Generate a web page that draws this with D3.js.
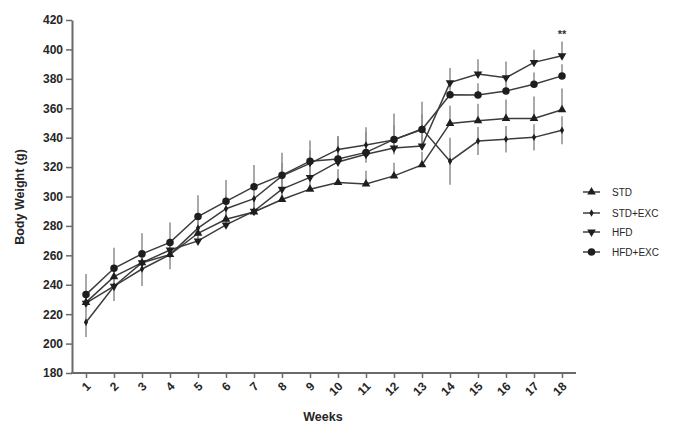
<!DOCTYPE html>
<html lang="en">
<head>
    <meta charset="UTF-8">
    <title>Body weight</title>
    <script src="https://d3js.org/d3.v7.min.js"></script>
    <style>
        body { margin: 0; background: #fff; }
        svg { font-family: Arial, "Liberation Sans", sans-serif; }
        .tick text { font-weight: bold; font-size: 12px; fill: #262626; }
    </style>
</head>
<body>
    <script>
        const weeks = d3.range(1, 19);
        const yTicks = [180, 200, 220, 240, 260, 280, 300, 320, 340, 360, 380, 400, 420];

        const std     = [228, 245.5, 255, 260.5, 275, 284.5, 289.5, 298, 305, 309.5, 308.5, 314, 321.5, 349.7, 351.5, 353, 353, 359];
        const stdExc  = [214.5, 239, 250.7, 260.5, 278.5, 291.7, 298.5, 314, 322.5, 332, 335, 338.5, 346, 324, 337.7, 339, 340.2, 345];
        const hfd     = [227.5, 239, 255, 263.6, 269.8, 280.7, 290, 305, 313, 323.5, 328.7, 333, 334.3, 377.4, 383.3, 380.8, 391.2, 395.7];
        const hfdExc  = [233.3, 251.2, 261, 268.8, 286.4, 296.7, 306.7, 314.5, 324, 325.5, 330, 338.8, 345.5, 369.2, 369, 371.7, 376.3, 382];

        const stdErr    = [8, 8, 8, 10, 8, 8, 8, 8, 8, 9, 9, 9, 9, 12, 11.5, 13, 15, 14.5];
        const stdExcErr = [10, 10, 11.5, 10, 10, 9, 9, 9, 9, 9, 12, 10, 10, 16, 9.5, 9, 9, 9.5];
        const hfdErr    = [8, 8, 8, 8, 8, 8, 8, 8, 8, 8, 8, 8, 8, 10, 10, 11, 8.5, 9.6];
        const hfdExcErr = [14, 14, 14, 13.5, 14.5, 14.5, 14.7, 15.3, 14, 15.5, 14, 17.6, 19, 8, 8, 8, 8, 8];

        // up: whisker above the mean, down: whisker below
        const groups = [
            { name: "STD", values: std, err: stdErr, up: true, down: false, symbol: d3.symbolTriangle, size: 32, rot: 0 },
            { name: "STD+EXC", values: stdExc, err: stdExcErr, up: true, down: true, symbol: d3.symbolDiamond, size: 16, rot: 0 },
            { name: "HFD", values: hfd, err: hfdErr, up: true, down: false, symbol: d3.symbolTriangle, size: 32, rot: 180 },
            { name: "HFD+EXC", values: hfdExc, err: hfdExcErr, up: true, down: false, symbol: d3.symbolCircle, size: 44, rot: 0 }
        ];

        const w = 678;
        const h = 436;

        const x = d3.scaleLinear().domain([1, 18]).range([86, 562]);
        const y = d3.scaleLinear().domain([180, 420]).range([373, 20]);

        const svg = d3.select("body")
                      .append("svg")
                      .attr("width", w)
                      .attr("height", h);

        // y axis
        const yAxis = d3.axisLeft(y).tickValues(yTicks).tickSize(6).tickSizeOuter(0).tickPadding(3);
        const gy = svg.append("g")
           .attr("transform", "translate(72,0)")
           .call(yAxis);
        gy.select(".domain").attr("stroke", "#6a6a6a").attr("stroke-width", 2);
        gy.selectAll(".tick line").attr("stroke", "#6a6a6a").attr("stroke-width", 1.5);

        // x axis
        const xAxis = d3.axisBottom(x).tickValues(weeks).tickSize(5).tickSizeOuter(0);
        const gx = svg.append("g")
           .attr("transform", "translate(0,373)")
           .call(xAxis);
        gx.select(".domain").remove();
        gx.append("line")
          .attr("x1", 71).attr("x2", 576)
          .attr("stroke", "#6a6a6a").attr("stroke-width", 2);
        gx.selectAll(".tick line").attr("stroke", "#6a6a6a").attr("stroke-width", 1.5);
        gx.selectAll(".tick text")
          .attr("text-anchor", "end")
          .attr("dy", "0.35em")
          .attr("transform", "translate(2,11) rotate(-45)")
          .attr("y", 0);

        // axis titles
        svg.append("text")
           .attr("x", 323).attr("y", 421)
           .attr("text-anchor", "middle")
           .attr("font-weight", "bold").attr("font-size", 12.5).attr("fill", "#262626")
           .text("Weeks");

        svg.append("text")
           .attr("transform", "translate(24,197) rotate(-90)")
           .attr("text-anchor", "middle")
           .attr("font-weight", "bold").attr("font-size", 12.5).attr("fill", "#262626")
           .text("Body Weight (g)");

        // error bars
        groups.forEach(g => {
            svg.append("g").selectAll("line")
               .data(weeks)
               .enter()
               .append("line")
               .attr("x1", (d) => x(d)).attr("x2", (d) => x(d))
               .attr("y1", (d, i) => y(g.values[i] + (g.up ? g.err[i] : 0)))
               .attr("y2", (d, i) => y(g.values[i] - (g.down ? g.err[i] : 0)))
               .attr("stroke", "#8c8c8c")
               .attr("stroke-width", 1.5);
        });

        // lines
        const line = d3.line().x((d, i) => x(weeks[i])).y((d) => y(d));
        groups.forEach(g => {
            svg.append("path")
               .datum(g.values)
               .attr("d", line)
               .attr("fill", "none")
               .attr("stroke", "#3c3c3c")
               .attr("stroke-width", 1.5);
        });

        // markers
        groups.forEach(g => {
            svg.append("g").selectAll("path")
               .data(g.values)
               .enter()
               .append("path")
               .attr("d", d3.symbol().type(g.symbol).size(g.size))
               .attr("transform", (d, i) => "translate(" + x(weeks[i]) + "," + y(d) + ") rotate(" + g.rot + ")")
               .attr("fill", "#1e1e1e");
        });

        // significance mark
        svg.append("text")
           .attr("x", x(18)).attr("y", 38)
           .attr("text-anchor", "middle")
           .attr("font-weight", "bold").attr("font-size", 11).attr("fill", "#333")
           .text("**");

        // legend
        const legendY = [192, 213, 232, 252];
        const legend = svg.append("g")
           .selectAll("g")
           .data(groups)
           .enter()
           .append("g")
           .attr("transform", (d, i) => "translate(0," + legendY[i] + ")");
        legend.append("line")
              .attr("x1", 583).attr("x2", 600)
              .attr("stroke", "#3c3c3c").attr("stroke-width", 1.5);
        legend.append("path")
              .attr("d", (d) => d3.symbol().type(d.symbol).size(d.size)())
              .attr("transform", (d) => "translate(591.5,0) rotate(" + d.rot + ")")
              .attr("fill", "#1e1e1e");
        legend.append("text")
              .attr("x", 612).attr("dy", "0.35em")
              .attr("font-size", 10).attr("fill", "#262626")
              .text((d) => d.name);
    </script>
</body>
</html>
